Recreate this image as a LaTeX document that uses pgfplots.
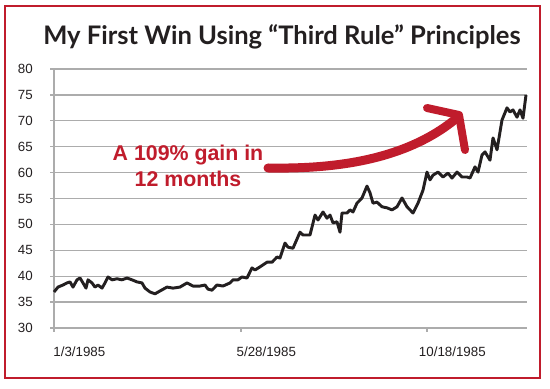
\documentclass[border=0pt]{standalone}
\usepackage{pgfplots}
\pgfplotsset{compat=1.18}
\usepackage{fontspec}
\setmainfont{Liberation Sans}
\newfontfamily\titlefont{Lato}
\definecolor{arrowred}{RGB}{192,28,44}
\definecolor{gridgray}{RGB}{172,172,172}
\definecolor{ink}{RGB}{35,31,32}
\begin{document}
\begin{tikzpicture}
\path[use as bounding box] (0,0) rectangle (412.5pt,291.75pt);
\fill[white] (0,0) rectangle (412.5pt,291.75pt);
\draw[arrowred, line width=1.5pt] (3.75pt,8.25pt) rectangle (405pt,287.25pt);
\node[ink, anchor=base] at (211.5pt,258pt) {\resizebox{358pt}{!}{\titlefont\bfseries My First Win Using “Third Rule” Principles}};
\begin{axis}[at={(40.5pt,45.75pt)}, anchor=south west, scale only axis,
  width=354.75pt, height=194.25pt,
  xmin=0, xmax=473, ymin=30, ymax=80,
  ytick={30,35,...,80},
  xtick={0,187,373},
  xticklabels={1/3/1985,5/28/1985,10/18/1985},
  axis x line=bottom, axis y line=left,
  axis line style={gridgray, line width=1pt, -},
  ymajorgrids, major grid style={gridgray, line width=1pt},
  tick style={gridgray, line width=1pt},
  tick align=outside, major tick length=3pt,
  /pgf/number format/assume math mode=true,
  yticklabel style={font=\fontsize{10}{12}\selectfont, text=ink, inner sep=0pt, anchor=east, xshift=-12.75pt},
  xticklabel style={font=\fontsize{10}{12}\selectfont, text=ink, inner sep=0pt, anchor=north, xshift=19pt, yshift=-11.25pt},
  clip=false]
\addplot[ink, line width=2.2pt, line join=round, mark=none] coordinates {
(0,36.95)(4,37.9)(9,38.3)(13,38.7)(16,38.9)(19,37.9)(23,39.3)(26,39.65)(29,38.7)(32,37.7)
(34,39.3)(38,38.7)(41,37.9)(44,38.3)(48,37.7)(51,38.7)(54,39.85)(58,39.3)(63,39.5)(68,39.3)
(73,39.65)(78,39.3)(83,38.9)(88,38.7)(91,37.7)(96,36.95)(101,36.6)(106,37.15)(113,37.9)(119,37.7)
(126,37.9)(133,38.7)(139,38.1)(146,38.1)(151,38.3)(154,37.5)(158,37.3)(163,38.3)(169,38.1)(176,38.7)
(179,39.3)(184,39.3)(188,39.85)(193,39.65)(198,41.6)(201,41.2)(206,41.8)(213,42.7)(218,42.7)(223,43.7)
(226,43.5)(231,46.4)(234,45.6)(239,45.4)(246,48.5)(249,47.95)(256,47.95)(261,51.8)(264,50.85)(269,52.4)
(273,51.2)(276,51.8)(279,50.3)(283,50.5)(286,48.5)(288,52.2)(293,52.2)(296,52.8)(299,52.4)(303,54.1)
(308,55.1)(313,57.4)(316,56.1)(319,54.1)(323,54.3)(328,53.4)(333,53.2)(338,52.8)(343,53.4)(348,55.1)
(353,53.4)(359,52.2)(364,54.1)(369,56.6)(373,60.1)(376,58.6)(379,59.5)(384,60.1)(389,59.15)(394,59.9)
(398,58.95)(403,60.1)(408,59.15)(413,59.15)(416,58.95)(421,61.1)(424,60.1)(428,63.4)(431,64.0)(436,62.4)
(439,66.7)(443,64.4)(448,70.15)(453,72.5)(456,71.7)(459,72.1)(463,70.7)(466,72.1)(469,70.5)(472,75.0)
};
\end{axis}
\node[arrowred, anchor=base] at (141pt,171pt) {\fontsize{16}{19}\selectfont\bfseries A 109\% gain in};
\node[arrowred, anchor=base] at (141pt,151.5pt) {\fontsize{16}{19}\selectfont\bfseries 12 months};
\draw[arrowred, line width=6.75pt, line cap=round] (201pt,165.75pt) .. controls (247.5pt,165pt) and (303.75pt,170.25pt) .. (343.5pt,204pt);
\draw[arrowred, line width=6pt, line cap=round, line join=round] (320.25pt,210.75pt) -- (344.25pt,205.5pt) -- (348.75pt,179.25pt);
\end{tikzpicture}
\end{document}
